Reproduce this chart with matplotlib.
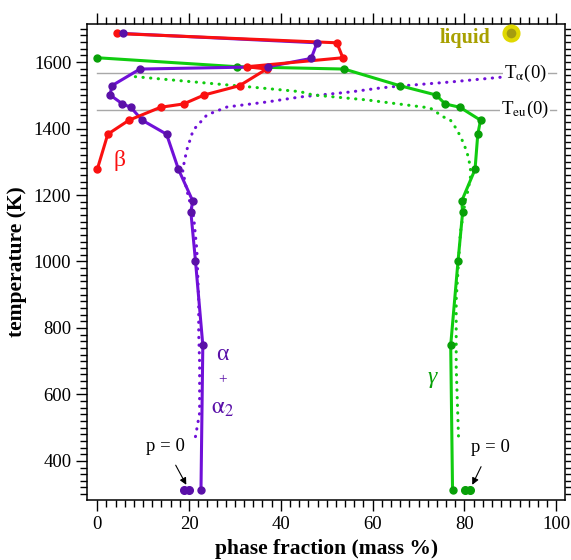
import numpy as np
import matplotlib.pyplot as plt

plt.rcParams['font.family'] = ['Liberation Serif', 'DejaVu Serif']
plt.rcParams['mathtext.fontset'] = 'stix'

# measured phase fractions (mass %) vs temperature (K)
beta_T = [1686, 1658, 1613, 1586, 1579, 1529, 1501, 1474, 1464, 1425, 1383, 1277]
beta_f = [4.2, 52.2, 53.5, 32.6, 36.9, 31.0, 23.3, 18.8, 13.8, 6.9, 2.3, 0.0]

alpha_T = [1686, 1658, 1611, 1586, 1579, 1529, 1501, 1474, 1464, 1425, 1383, 1277,
           1182, 1148, 1002, 748, 312]
alpha_f = [5.6, 47.9, 46.6, 37.2, 9.3, 3.2, 2.8, 5.5, 7.3, 9.8, 15.1, 17.7,
           20.8, 20.4, 21.4, 23.0, 22.6]

gamma_T = [1613, 1586, 1579, 1529, 1501, 1474, 1464, 1425, 1383, 1277,
           1182, 1148, 1002, 748, 312]
gamma_f = [0.0, 30.5, 53.8, 65.9, 73.8, 75.8, 79.0, 83.5, 82.9, 82.3,
           79.4, 79.6, 78.6, 77.0, 77.4]

# p = 0 points
p0_T = [312, 312]
p0_alpha = [18.8, 19.9]
p0_gamma = [80.2, 81.1]

liquid_T = [1687]
liquid_f = [90.2]

# model curves (dotted)
alpha_calc_T = [473, 544, 695, 785, 884, 1035, 1135, 1215, 1275, 1335, 1395, 1441,
                1465, 1480, 1495, 1510, 1522, 1528, 1540, 1555]
alpha_calc_f = [21.4, 22.3, 22.3, 22.1, 22.1, 21.7, 21.0, 19.5, 18.6, 19.5, 20.9, 23.9,
                28.3, 37.0, 44.2, 55.1, 61.6, 66.0, 76.9, 88.4]
gamma_calc_T = [1556, 1526, 1511, 1501, 1486, 1481, 1462, 1435, 1426, 1396, 1356, 1326,
                1284, 1254, 1215, 1185, 1086, 884, 683, 473]
gamma_calc_f = [8.3, 32.6, 44.2, 47.0, 58.8, 61.6, 72.5, 75.4, 76.9, 78.4, 79.8, 80.6,
                81.3, 81.3, 80.8, 80.2, 79.1, 78.2, 78.2, 78.7]

T_alpha0 = 1566
T_eu0 = 1456

red = '#fa1010'
purple_line, purple_mk = '#7010d8', '#5a10a8'
green_line, green_mk = '#10cc10', '#08a008'

fig = plt.figure(figsize=(5.71, 5.60), dpi=100)
ax = fig.add_axes([0.153, 0.107, 0.8365, 0.851])

ax.plot([0, 100], [T_alpha0, T_alpha0], color='#a8a8a8', lw=1.0, zorder=1)
ax.plot([0, 100], [T_eu0, T_eu0], color='#a8a8a8', lw=1.0, zorder=1)

ax.plot(alpha_calc_f, alpha_calc_T, color=purple_line, lw=2.2,
        linestyle=(0, (0.1, 2.4)), dash_capstyle='round', zorder=2)
ax.plot(gamma_calc_f, gamma_calc_T, color=green_line, lw=2.2,
        linestyle=(0, (0.1, 2.4)), dash_capstyle='round', zorder=2)

# lines first (red over purple), then markers (purple dots on top)
ax.plot(gamma_f, gamma_T, color=green_line, lw=2.2, marker='o', ms=5,
        mfc=green_mk, mec=green_mk, zorder=3)
ax.plot(alpha_f, alpha_T, color=purple_line, lw=2.2, zorder=4)
ax.plot(beta_f, beta_T, color=red, lw=2.2, zorder=4.5)
ax.plot(beta_f, beta_T, 'o', color=red, ms=5, zorder=5)
ax.plot(alpha_f, alpha_T, 'o', color=purple_mk, ms=5, zorder=5.5)

ax.plot(p0_alpha, p0_T, 'o', color=purple_mk, ms=5.5, zorder=4)
ax.plot(p0_gamma, p0_T, 'o', color=green_mk, ms=5.5, zorder=4)

ax.plot(liquid_f, liquid_T, 'o', ms=10, mfc='#a49c10', mec='#e0d800', mew=3, zorder=5)
ax.text(80.2, 1672, 'liquid', color='#a8a000', fontsize=14.5, fontweight='bold',
        ha='center', va='center')

ax.text(93.3, T_alpha0, r'T$_{\mathrm{\alpha}}$(0)', fontsize=13.5, ha='center',
        va='center', bbox=dict(fc='white', ec='none', pad=1), zorder=6)
ax.text(93.2, T_eu0, r'T$_{\mathrm{eu}}$(0)', fontsize=13.5, ha='center',
        va='center', bbox=dict(fc='white', ec='none', pad=1), zorder=6)

ax.text(4.8, 1305, 'β', color=red, fontsize=17, ha='center', va='center')
ax.text(27.2, 719, 'α', color=purple_mk, fontsize=17, ha='center', va='center')
ax.text(27.2, 644, '+', color=purple_mk, fontsize=11, ha='center', va='center')
ax.text(27.2, 559, r'$\mathrm{\alpha}_{2}$', color=purple_mk, fontsize=17,
        ha='center', va='center')
ax.text(73.0, 650, 'γ', color=green_mk, fontsize=17, ha='center', va='center',
        fontstyle='italic')

ax.annotate('p = 0', xy=(19.4, 328), xytext=(14.9, 443), fontsize=13.5,
            ha='center', va='center',
            arrowprops=dict(arrowstyle='-|>', color='black', lw=0.8,
                            shrinkA=6, shrinkB=0, mutation_scale=10))
ax.annotate('p = 0', xy=(81.7, 328), xytext=(85.6, 439), fontsize=13.5,
            ha='center', va='center',
            arrowprops=dict(arrowstyle='-|>', color='black', lw=0.8,
                            shrinkA=6, shrinkB=0, mutation_scale=10))

ax.set_xlim(-2.15, 101.9)
ax.set_ylim(282, 1716)
ax.set_xticks(np.arange(0, 101, 20))
ax.set_xticks(np.arange(0, 101, 2), minor=True)
ax.set_yticks(np.arange(400, 1601, 200))
ax.set_yticks(np.arange(300, 1701, 20), minor=True)
ax.tick_params(which='both', direction='out', top=True, right=True, width=1.0,
               labelsize=13.5)
ax.tick_params(which='major', length=8)
ax.tick_params(which='minor', length=5)
for s in ax.spines.values():
    s.set_linewidth(1.1)

ax.set_xlabel('phase fraction (mass %)', fontsize=15.5, fontweight='bold', labelpad=4)
ax.set_ylabel('temperature (K)', fontsize=15.5, fontweight='bold', labelpad=5)

fig.savefig('out.png', dpi=100)
